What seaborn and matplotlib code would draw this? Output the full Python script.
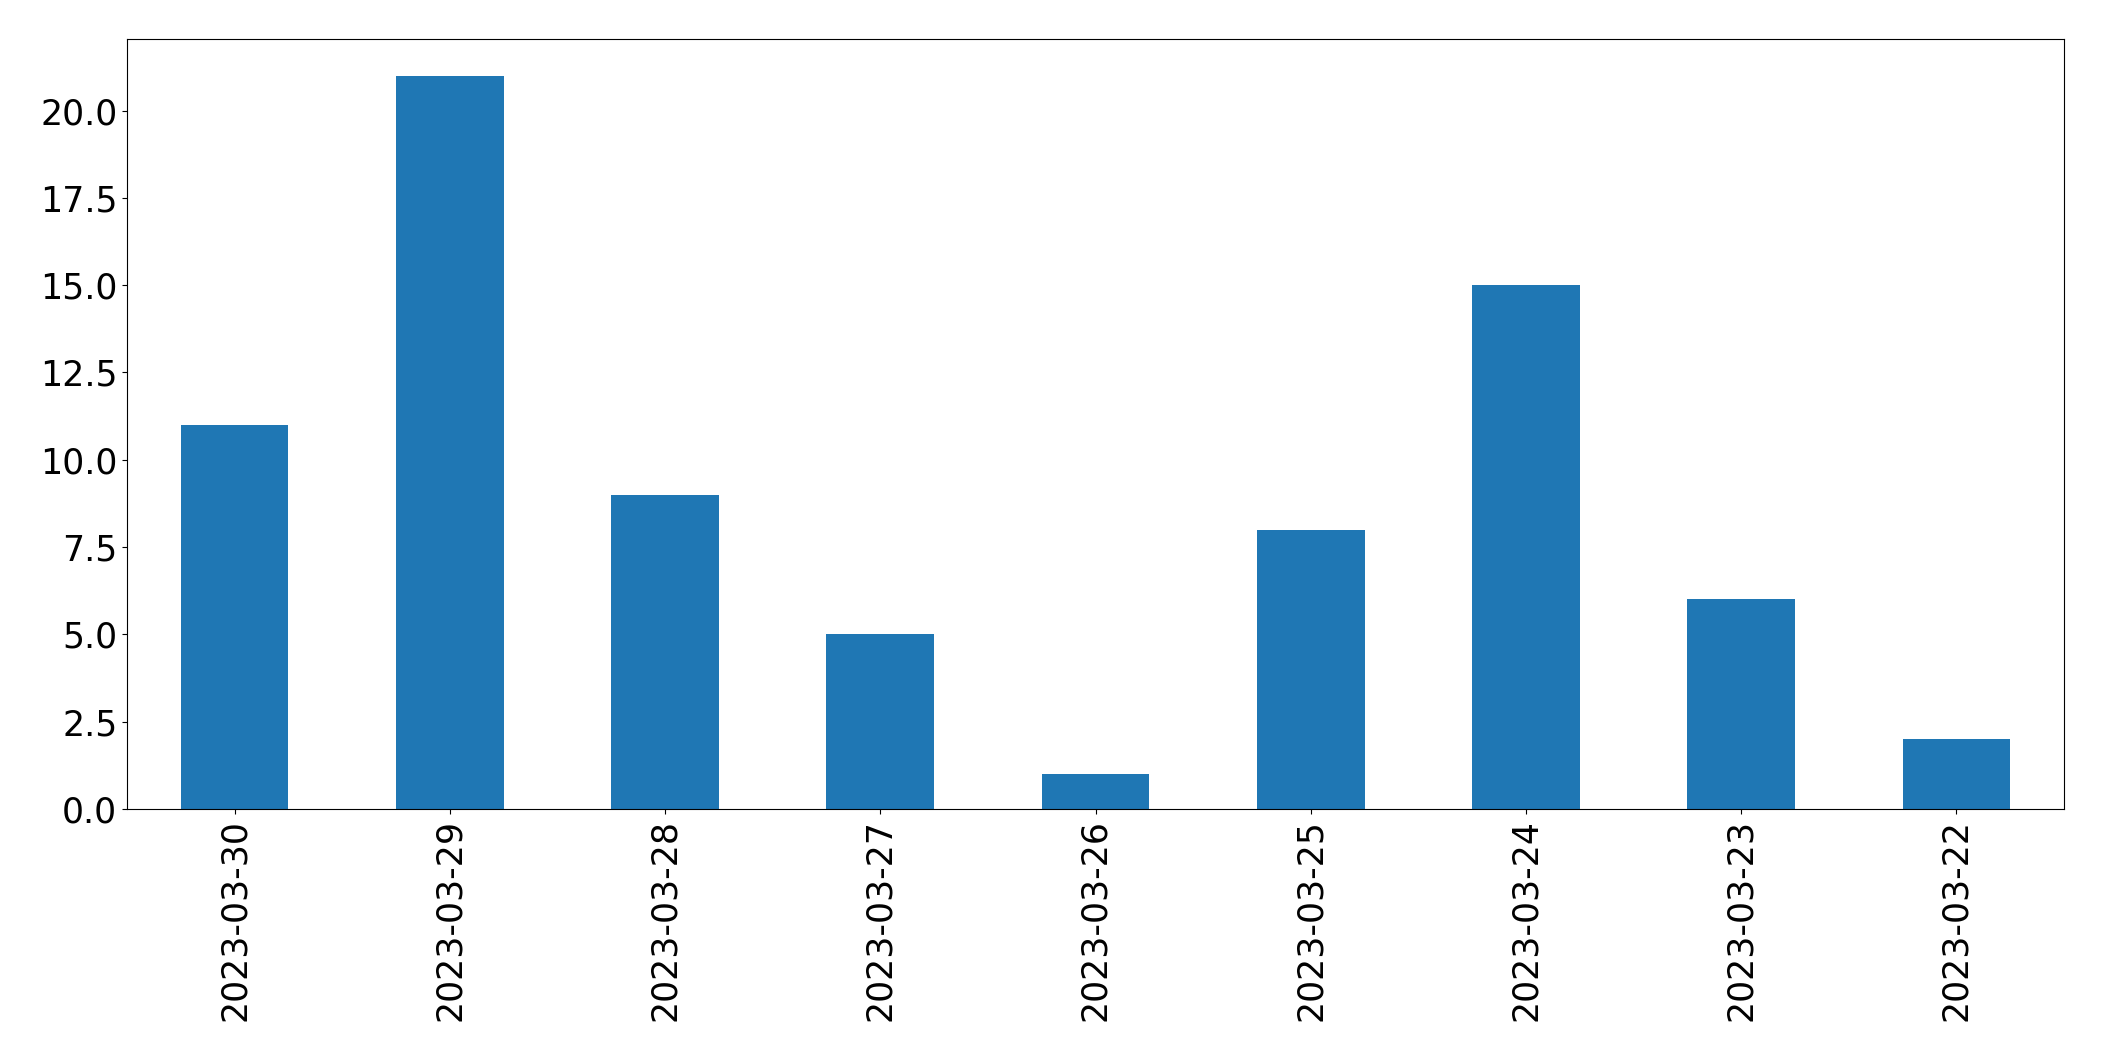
import matplotlib
matplotlib.use('Agg')
import matplotlib.pyplot as plt
import seaborn as sns
import pandas as pd

# --- Data ---
dates = ['2023-03-30', '2023-03-29', '2023-03-28', '2023-03-27', '2023-03-26',
         '2023-03-25', '2023-03-24', '2023-03-23', '2023-03-22']
counts = [11, 21, 9, 5, 1, 8, 15, 6, 2]

df = pd.DataFrame({'date': dates, 'count': counts})

fig = plt.figure(figsize=(21.04, 10.61), dpi=100)
ax = fig.add_axes([127 / 2104, 1 - 809 / 1061, (2064 - 127) / 2104, (809 - 39) / 1061])

sns.barplot(data=df, x='date', y='count', order=dates, color='#1f77b4',
            saturation=1, width=0.5, ax=ax)

ax.set_xlabel('')
ax.set_ylabel('')
ax.set_xlim(-0.5, len(dates) - 0.5)
ax.set_ylim(0, max(counts) * 1.05)
ax.tick_params(axis='both', labelsize=25)
ax.tick_params(axis='x', labelrotation=90)

fig.savefig('out.png', dpi=100)
